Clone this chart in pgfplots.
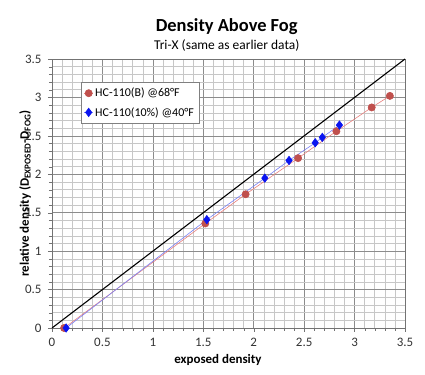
\documentclass[border=0pt]{standalone}
\usepackage{fontspec}
\setmainfont{Carlito}
\usepackage{pgfplots}
\pgfplotsset{compat=1.18}
\definecolor{exred}{HTML}{C0504D}
\definecolor{exredl}{HTML}{E8807E}
\definecolor{exblue}{HTML}{0A14F0}
\definecolor{exbluel}{HTML}{7A80F5}
\begin{document}
\begin{tikzpicture}
\path[use as bounding box] (-52bp,-47bp) rectangle (373bp,328bp);
\begin{axis}[
  scale only axis,
  width=353bp, height=269bp,
  xmin=0, xmax=3.5, ymin=0, ymax=3.5,
  xtick={0,0.5,...,3.5}, ytick={0,0.5,...,3.5},
  minor x tick num=4, minor y tick num=4,
  grid=both,
  major grid style={draw=black!45, line width=0.6pt},
  minor grid style={draw=black!22, line width=0.5pt},
  axis line style={draw=black!55},
  tick style={draw=black!55},
  major tick length=4bp, minor tick length=3bp,
  tick align=outside,
  xtick pos=bottom, ytick pos=left,
  /pgf/number format/assume math mode=true,
  ticklabel style={font=\fontsize{13}{15}\selectfont, text=black!80},
  xticklabel style={yshift=-3bp},
  yticklabel style={xshift=-3bp},
  xlabel={\textbf{exposed density}},
  xlabel style={font=\fontsize{13}{15}\selectfont, at={(axis description cs:0.47,0)}, anchor=base, yshift=-35bp},
  ylabel={\textbf{relative density (D\textsubscript{EXPOSED}-D\textsubscript{FOG})}},
  ylabel style={font=\fontsize{13}{15}\selectfont, at={(axis description cs:0,0.5)}, anchor=center, yshift=27bp},
  legend style={at={(0.082,0.915)}, anchor=north west, draw=black!50,
    font=\fontsize{12}{14}\selectfont, row sep=5bp, inner xsep=3bp, inner ysep=4bp,
    cells={anchor=west}},
  legend image code/.code={\draw[#1, mark repeat=2, mark phase=2] plot coordinates {(0cm,0cm)(0.15cm,0cm)(0.3cm,0cm)};},
  clip=false,
]
\addplot[draw=exredl, line width=0.6pt, mark=*, mark size=3.6bp,
  mark options={draw=exred, fill=exred}]
  coordinates {(0.12,0) (1.52,1.36) (1.92,1.74) (2.44,2.21) (2.82,2.56) (3.17,2.87) (3.35,3.02)};
\addlegendentry{HC-110(B) @68°F}
\addplot[draw=exbluel, line width=0.6pt, mark=diamond*, mark size=4.2bp,
  mark options={draw=exblue, fill=exblue}]
  coordinates {(0.14,0) (1.535,1.41) (2.11,1.95) (2.35,2.18) (2.61,2.41) (2.68,2.48) (2.85,2.64)};
\addlegendentry{HC-110(10\%) @40°F}
\addplot[black, line width=1.1pt, forget plot] coordinates {(0,0) (3.5,3.5)};
\node[anchor=base, font=\bfseries\fontsize{18.5}{20}\selectfont] at (rel axis cs:0.495,0) [yshift=296bp] {Density Above Fog};
\node[anchor=base, font=\fontsize{13.5}{15}\selectfont] at (rel axis cs:0.495,0) [yshift=278bp] {Tri-X (same as earlier data)};
\end{axis}
\end{tikzpicture}
\end{document}
